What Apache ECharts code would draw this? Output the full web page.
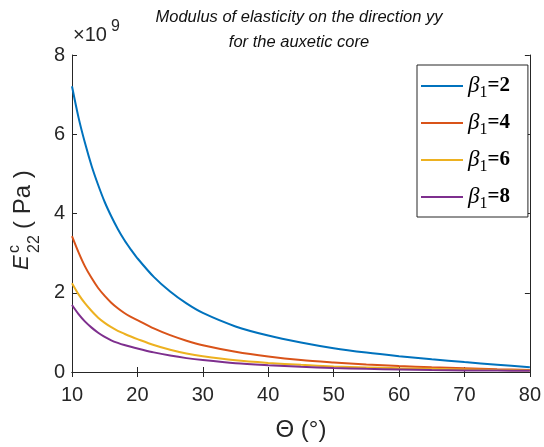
<!DOCTYPE html>
<html>
<head>
<meta charset="utf-8">
<script src="https://cdn.jsdelivr.net/npm/echarts@6/dist/echarts.min.js"></script>
<style>
  html, body { margin: 0; padding: 0; background: #fff; }
  #chart { width: 544px; height: 447px; }
</style>
</head>
<body>
<div id="chart"></div>
<script>
// Cell angle Θ in degrees
const theta = [10, 11, 12, 13, 14, 15, 16, 17, 18, 19, 20, 22.5, 25, 27.5, 30, 35, 40, 45, 50, 55, 60, 65, 70, 75, 80];

// E22 of the auxetic core, in units of 1e9 Pa, one array per β1
const beta1Values = [2, 4, 6, 8];
const eBeta2 = [7.21, 6.42, 5.77, 5.20, 4.72, 4.29, 3.93, 3.61, 3.33, 3.09, 2.87, 2.40, 2.03, 1.73, 1.49, 1.15, 0.92, 0.745, 0.60, 0.49, 0.40, 0.32, 0.25, 0.185, 0.12];
const eBeta4 = [3.43, 3.02, 2.66, 2.37, 2.12, 1.92, 1.75, 1.61, 1.49, 1.39, 1.31, 1.10, 0.93, 0.79, 0.675, 0.51, 0.39, 0.30, 0.24, 0.19, 0.15, 0.12, 0.095, 0.07, 0.05];
const eBeta6 = [2.24, 1.96, 1.73, 1.54, 1.37, 1.24, 1.13, 1.04, 0.965, 0.895, 0.83, 0.68, 0.56, 0.465, 0.395, 0.295, 0.23, 0.18, 0.14, 0.115, 0.095, 0.08, 0.065, 0.05, 0.04];
const eBeta8 = [1.69, 1.46, 1.27, 1.12, 0.99, 0.885, 0.80, 0.735, 0.68, 0.635, 0.595, 0.495, 0.415, 0.35, 0.30, 0.22, 0.17, 0.13, 0.10, 0.08, 0.065, 0.05, 0.04, 0.035, 0.03];

const xTicks = [10, 20, 30, 40, 50, 60, 70, 80];
const yTicks = [0, 2, 4, 6, 8];
const SCALE = 1e9;

const colors = ['#0072BD', '#D95319', '#EDB120', '#7E2F8E'];
const seriesValues = [eBeta2, eBeta4, eBeta6, eBeta8];

const axisColor = '#262626';
const sans = 'Liberation Sans, Arial, sans-serif';
const serif = 'Liberation Serif, Times New Roman, serif';

const series = beta1Values.map((b, i) => ({
  name: 'β1=' + b,
  type: 'line',
  xAxisIndex: 0,
  yAxisIndex: 0,
  symbol: 'none',
  smooth: 0.3,
  lineStyle: { color: colors[i], width: 2 },
  itemStyle: { color: colors[i] },
  data: theta.map((t, k) => [t, seriesValues[i][k] * SCALE])
}));

const boxAxis = {
  axisLine: { show: true, lineStyle: { color: axisColor, width: 1 } },
  axisTick: { show: true, inside: true, length: 5, lineStyle: { color: axisColor } },
  axisLabel: { show: false },
  splitLine: { show: false }
};

const chart = echarts.init(document.getElementById('chart'), null, { renderer: 'canvas' });
chart.setOption({
  backgroundColor: '#fff',
  animation: false,
  color: colors,
  title: {
    text: 'Modulus of elasticity on the direction yy\nfor the auxetic core',
    left: 299, top: 5, textAlign: 'center', padding: 0,
    textStyle: { fontFamily: sans, fontStyle: 'italic', fontWeight: 'normal', fontSize: 16.5, lineHeight: 25, color: '#111' }
  },
  grid: { left: 72, right: 13, top: 55, bottom: 71, containLabel: false },
  xAxis: [
    Object.assign({
      type: 'value', position: 'bottom', min: xTicks[0], max: xTicks[xTicks.length - 1], interval: 10,
      name: 'Θ (°)', nameLocation: 'middle', nameGap: 46,
      nameTextStyle: { fontFamily: sans, fontSize: 24, color: axisColor }
    }, boxAxis, {
      axisLabel: { show: true, fontFamily: sans, fontSize: 20, color: axisColor, margin: 13 }
    }),
    Object.assign({ type: 'value', position: 'top', min: 10, max: 80, interval: 10 }, boxAxis)
  ],
  yAxis: [
    Object.assign({
      type: 'value', position: 'left', min: yTicks[0] * SCALE, max: yTicks[yTicks.length - 1] * SCALE, interval: 2 * SCALE
    }, boxAxis, {
      axisLabel: { show: true, fontFamily: sans, fontSize: 20, color: axisColor, margin: 7,
        formatter: v => String(Math.round(v / SCALE)) }
    }),
    Object.assign({ type: 'value', position: 'right', min: 0, max: 8 * SCALE, interval: 2 * SCALE }, boxAxis)
  ],
  legend: {
    orient: 'vertical',
    left: 417, top: 65,
    padding: [6, 18, 5, 4],
    icon: 'rect',
    itemWidth: 42, itemHeight: 2, itemGap: 7,
    backgroundColor: '#fff',
    borderColor: '#262626', borderWidth: 1,
    data: series.map(s => s.name),
    formatter: name => '{b|β}{s|1}{e|=' + name.split('=')[1] + '}',
    textStyle: {
      lineHeight: 27,
      rich: {
        b: { fontFamily: serif, fontStyle: 'italic', fontSize: 23, color: '#000', lineHeight: 27 },
        s: { fontFamily: serif, fontSize: 16, color: '#000', lineHeight: 13, padding: [14, 0, 0, 0] },
        e: { fontFamily: serif, fontWeight: 'bold', fontSize: 21, color: '#000', lineHeight: 27 }
      }
    }
  },
  graphic: [
    // ×10^9 exponent marker above the y axis
    { type: 'text', left: 73, top: 25, style: { text: '×10', font: '20px ' + sans, fill: axisColor } },
    { type: 'text', left: 111, top: 19, style: { text: '9', font: '16px ' + sans, fill: axisColor } },
    // y-axis title E^c_22 ( Pa ), read bottom to top
    { type: 'text', x: 22, y: 270, rotation: Math.PI / 2,
      style: { text: 'E', font: 'italic 22px ' + sans, fill: axisColor, textAlign: 'left', textVerticalAlign: 'middle' } },
    { type: 'text', x: 15, y: 253, rotation: Math.PI / 2,
      style: { text: 'c', font: '16px ' + sans, fill: axisColor, textAlign: 'left', textVerticalAlign: 'middle' } },
    { type: 'text', x: 35, y: 253, rotation: Math.PI / 2,
      style: { text: '22', font: '16px ' + sans, fill: axisColor, textAlign: 'left', textVerticalAlign: 'middle' } },
    { type: 'text', x: 23, y: 229, rotation: Math.PI / 2,
      style: { text: '( Pa )', font: '24px ' + sans, fill: axisColor, textAlign: 'left', textVerticalAlign: 'middle' } }
  ],
  series: series
});
</script>
</body>
</html>
